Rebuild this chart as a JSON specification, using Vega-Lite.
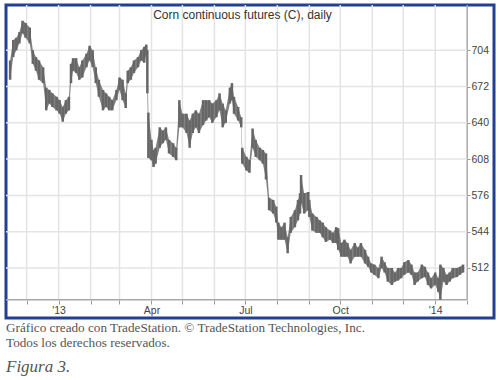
{
  "$schema": "https://vega.github.io/schema/vega-lite/v6.json",
  "width": 488,
  "height": 313,
  "autosize": {"type": "none"},
  "padding": {"left": 6, "top": 5, "right": 6, "bottom": 62},
  "background": "white",
  "config": {"view": {"stroke": "#233f94", "strokeWidth": 3}, "font": "Liberation Sans"},
  "title": {
    "text": ["Gráfico creado con TradeStation. © TradeStation Technologies, Inc.", "Todos los derechos reservados."],
    "orient": "bottom", "anchor": "start", "frame": "group", "offset": 4,
    "font": "Liberation Serif", "fontSize": 13.2, "fontWeight": "normal", "color": "#555", "lineHeight": 15,
    "subtitle": "Figura 3.", "subtitleFont": "Liberation Serif", "subtitleFontSize": 17,
    "subtitleFontStyle": "italic", "subtitleColor": "#555", "subtitlePadding": 9
  },
  "datasets": {
    "months": [
      {"date": "2012-12-01", "kind": "grid"}, {"date": "2013-01-01", "kind": "grid"}, {"date": "2013-02-01", "kind": "grid"},
      {"date": "2013-03-01", "kind": "grid"}, {"date": "2013-04-01", "kind": "grid"}, {"date": "2013-05-01", "kind": "grid"},
      {"date": "2013-06-01", "kind": "grid"}, {"date": "2013-07-01", "kind": "grid"}, {"date": "2013-08-01", "kind": "grid"},
      {"date": "2013-09-01", "kind": "grid"}, {"date": "2013-10-01", "kind": "grid"}, {"date": "2013-11-01", "kind": "grid"},
      {"date": "2013-12-01", "kind": "grid"}, {"date": "2014-01-01", "kind": "grid"}, {"date": "2014-02-01", "kind": "axis"}
    ],
    "levels": [
      {"price": 512, "from": "2012-11-11", "to": "2014-02-01", "kind": "grid"},
      {"price": 544, "from": "2012-11-11", "to": "2014-02-01", "kind": "grid"},
      {"price": 576, "from": "2012-11-11", "to": "2014-02-01", "kind": "grid"},
      {"price": 608, "from": "2012-11-11", "to": "2014-02-01", "kind": "grid"},
      {"price": 640, "from": "2012-11-11", "to": "2014-02-01", "kind": "grid"},
      {"price": 672, "from": "2012-11-11", "to": "2014-02-01", "kind": "grid"},
      {"price": 704, "from": "2012-11-11", "to": "2014-02-01", "kind": "grid"},
      {"price": 484.1, "from": "2012-11-11", "to": "2014-02-01", "kind": "axis"}
    ],
    "corn": [
      {"date": "2012-11-15", "low": 678, "high": 695},
      {"date": "2012-11-18", "low": 698, "high": 713},
      {"date": "2012-11-21", "low": 704, "high": 715},
      {"date": "2012-11-24", "low": 710, "high": 720},
      {"date": "2012-11-27", "low": 719, "high": 730},
      {"date": "2012-11-30", "low": 715, "high": 728},
      {"date": "2012-12-04", "low": 710, "high": 724},
      {"date": "2012-12-07", "low": 692, "high": 704},
      {"date": "2012-12-10", "low": 686, "high": 698},
      {"date": "2012-12-13", "low": 678, "high": 695},
      {"date": "2012-12-17", "low": 675, "high": 689},
      {"date": "2012-12-20", "low": 651, "high": 671},
      {"date": "2012-12-23", "low": 657, "high": 669},
      {"date": "2012-12-26", "low": 654, "high": 666},
      {"date": "2012-12-30", "low": 651, "high": 663},
      {"date": "2013-01-02", "low": 648, "high": 660},
      {"date": "2013-01-05", "low": 641, "high": 654},
      {"date": "2013-01-08", "low": 648, "high": 660},
      {"date": "2013-01-11", "low": 651, "high": 663},
      {"date": "2013-01-13", "low": 675, "high": 692},
      {"date": "2013-01-15", "low": 686, "high": 697},
      {"date": "2013-01-18", "low": 684, "high": 697},
      {"date": "2013-01-21", "low": 678, "high": 689},
      {"date": "2013-01-24", "low": 680, "high": 695},
      {"date": "2013-01-28", "low": 689, "high": 701},
      {"date": "2013-01-31", "low": 695, "high": 708},
      {"date": "2013-02-03", "low": 689, "high": 704},
      {"date": "2013-02-06", "low": 675, "high": 689},
      {"date": "2013-02-09", "low": 663, "high": 678},
      {"date": "2013-02-13", "low": 651, "high": 669},
      {"date": "2013-02-16", "low": 654, "high": 666},
      {"date": "2013-02-19", "low": 651, "high": 663},
      {"date": "2013-02-22", "low": 651, "high": 660},
      {"date": "2013-02-26", "low": 660, "high": 669},
      {"date": "2013-03-01", "low": 669, "high": 680},
      {"date": "2013-03-04", "low": 660, "high": 678},
      {"date": "2013-03-07", "low": 653, "high": 666},
      {"date": "2013-03-09", "low": 675, "high": 686},
      {"date": "2013-03-12", "low": 678, "high": 689},
      {"date": "2013-03-15", "low": 684, "high": 695},
      {"date": "2013-03-19", "low": 689, "high": 698},
      {"date": "2013-03-22", "low": 695, "high": 704},
      {"date": "2013-03-25", "low": 693, "high": 707},
      {"date": "2013-03-27", "low": 700, "high": 709},
      {"date": "2013-03-28", "low": 666, "high": 704},
      {"date": "2013-03-29", "low": 609, "high": 649},
      {"date": "2013-04-01", "low": 607, "high": 625},
      {"date": "2013-04-03", "low": 601, "high": 616},
      {"date": "2013-04-05", "low": 604, "high": 618},
      {"date": "2013-04-09", "low": 618, "high": 636},
      {"date": "2013-04-12", "low": 622, "high": 633},
      {"date": "2013-04-15", "low": 625, "high": 636},
      {"date": "2013-04-18", "low": 613, "high": 625},
      {"date": "2013-04-22", "low": 610, "high": 622},
      {"date": "2013-04-25", "low": 607, "high": 618},
      {"date": "2013-04-28", "low": 636, "high": 660},
      {"date": "2013-05-01", "low": 636, "high": 648},
      {"date": "2013-05-05", "low": 631, "high": 648},
      {"date": "2013-05-08", "low": 618, "high": 642},
      {"date": "2013-05-11", "low": 631, "high": 648},
      {"date": "2013-05-14", "low": 636, "high": 651},
      {"date": "2013-05-17", "low": 631, "high": 648},
      {"date": "2013-05-21", "low": 638, "high": 660},
      {"date": "2013-05-24", "low": 642, "high": 660},
      {"date": "2013-05-27", "low": 645, "high": 660},
      {"date": "2013-05-30", "low": 640, "high": 657},
      {"date": "2013-06-03", "low": 645, "high": 660},
      {"date": "2013-06-06", "low": 651, "high": 666},
      {"date": "2013-06-09", "low": 636, "high": 657},
      {"date": "2013-06-12", "low": 640, "high": 651},
      {"date": "2013-06-16", "low": 657, "high": 671},
      {"date": "2013-06-18", "low": 660, "high": 675},
      {"date": "2013-06-20", "low": 648, "high": 663},
      {"date": "2013-06-24", "low": 642, "high": 654},
      {"date": "2013-06-27", "low": 636, "high": 645},
      {"date": "2013-06-28", "low": 604, "high": 618},
      {"date": "2013-07-02", "low": 598, "high": 610},
      {"date": "2013-07-05", "low": 596, "high": 607},
      {"date": "2013-07-08", "low": 618, "high": 635},
      {"date": "2013-07-11", "low": 610, "high": 625},
      {"date": "2013-07-15", "low": 607, "high": 618},
      {"date": "2013-07-18", "low": 604, "high": 616},
      {"date": "2013-07-21", "low": 590, "high": 613},
      {"date": "2013-07-24", "low": 563, "high": 574},
      {"date": "2013-07-28", "low": 560, "high": 572},
      {"date": "2013-07-31", "low": 552, "high": 566},
      {"date": "2013-08-02", "low": 537, "high": 552},
      {"date": "2013-08-05", "low": 537, "high": 548},
      {"date": "2013-08-08", "low": 537, "high": 552},
      {"date": "2013-08-11", "low": 525, "high": 539},
      {"date": "2013-08-14", "low": 543, "high": 557},
      {"date": "2013-08-18", "low": 548, "high": 563},
      {"date": "2013-08-21", "low": 554, "high": 572},
      {"date": "2013-08-23", "low": 560, "high": 578},
      {"date": "2013-08-24", "low": 569, "high": 594},
      {"date": "2013-08-27", "low": 560, "high": 578},
      {"date": "2013-08-31", "low": 563, "high": 579},
      {"date": "2013-09-01", "low": 557, "high": 572},
      {"date": "2013-09-04", "low": 545, "high": 560},
      {"date": "2013-09-08", "low": 543, "high": 557},
      {"date": "2013-09-11", "low": 543, "high": 554},
      {"date": "2013-09-14", "low": 539, "high": 552},
      {"date": "2013-09-17", "low": 535, "high": 548},
      {"date": "2013-09-21", "low": 537, "high": 545},
      {"date": "2013-09-24", "low": 534, "high": 543},
      {"date": "2013-09-27", "low": 534, "high": 548},
      {"date": "2013-09-29", "low": 528, "high": 547},
      {"date": "2013-10-02", "low": 522, "high": 534},
      {"date": "2013-10-05", "low": 522, "high": 537},
      {"date": "2013-10-08", "low": 522, "high": 534},
      {"date": "2013-10-11", "low": 516, "high": 528},
      {"date": "2013-10-15", "low": 522, "high": 534},
      {"date": "2013-10-18", "low": 522, "high": 530},
      {"date": "2013-10-21", "low": 522, "high": 534},
      {"date": "2013-10-25", "low": 516, "high": 528},
      {"date": "2013-10-28", "low": 513, "high": 522},
      {"date": "2013-10-31", "low": 508, "high": 516},
      {"date": "2013-11-03", "low": 506, "high": 515},
      {"date": "2013-11-07", "low": 503, "high": 512},
      {"date": "2013-11-10", "low": 512, "high": 522},
      {"date": "2013-11-13", "low": 508, "high": 517},
      {"date": "2013-11-16", "low": 500, "high": 512},
      {"date": "2013-11-20", "low": 497, "high": 512},
      {"date": "2013-11-23", "low": 500, "high": 508},
      {"date": "2013-11-26", "low": 501, "high": 512},
      {"date": "2013-11-29", "low": 503, "high": 512},
      {"date": "2013-12-02", "low": 506, "high": 517},
      {"date": "2013-12-06", "low": 508, "high": 519},
      {"date": "2013-12-09", "low": 506, "high": 515},
      {"date": "2013-12-12", "low": 497, "high": 508},
      {"date": "2013-12-15", "low": 500, "high": 508},
      {"date": "2013-12-19", "low": 503, "high": 515},
      {"date": "2013-12-22", "low": 504, "high": 513},
      {"date": "2013-12-25", "low": 497, "high": 508},
      {"date": "2013-12-28", "low": 494, "high": 503},
      {"date": "2014-01-01", "low": 497, "high": 508},
      {"date": "2014-01-04", "low": 491, "high": 503},
      {"date": "2014-01-06", "low": 484, "high": 515},
      {"date": "2014-01-09", "low": 500, "high": 512},
      {"date": "2014-01-12", "low": 497, "high": 506},
      {"date": "2014-01-15", "low": 500, "high": 508},
      {"date": "2014-01-18", "low": 503, "high": 512},
      {"date": "2014-01-22", "low": 504, "high": 512},
      {"date": "2014-01-25", "low": 506, "high": 513},
      {"date": "2014-01-28", "low": 508, "high": 515}
    ]
  },
  "layer": [
    {
      "data": {"name": "months"},
      "mark": {"type": "rule", "strokeWidth": 1.5},
      "encoding": {
        "x": {"field": "date", "type": "temporal",
              "scale": {"domain": [{"year": 2012, "month": 11, "date": 11}, {"year": 2014, "month": 2, "date": 27}], "nice": false}},
        "y": {"datum": 484.1, "type": "quantitative", "scale": {"domain": [467.9, 743.9], "zero": false, "nice": false}},
        "y2": {"datum": 743.9},
        "color": {"condition": {"test": "datum.kind == 'axis'", "value": "#a8a8a8"}, "value": "#e4e4e4"}
      }
    },
    {
      "data": {"name": "levels"},
      "mark": {"type": "rule", "strokeWidth": 1.5},
      "encoding": {
        "y": {"field": "price", "type": "quantitative"},
        "x": {"field": "from", "type": "temporal"},
        "x2": {"field": "to"},
        "color": {"condition": {"test": "datum.kind == 'axis'", "value": "#a8a8a8"}, "value": "#e4e4e4"}
      }
    },
    {
      "data": {"name": "corn"},
      "mark": {"type": "area", "color": "#6c6c6c", "opacity": 0.85},
      "encoding": {
        "x": {"field": "date", "type": "temporal"},
        "y": {"field": "low", "type": "quantitative"},
        "y2": {"field": "high"}
      }
    },
    {
      "data": {"name": "corn"},
      "mark": {"type": "rule", "color": "#666666", "strokeWidth": 2.5},
      "encoding": {
        "x": {"field": "date", "type": "temporal",
              "axis": {"orient": "bottom", "offset": -18, "tickCount": {"interval": "month", "step": 1},
                       "grid": false, "domain": false, "tickSize": 4, "tickColor": "#999",
                       "labelExpr": "month(datum.value) == 0 ? \"'\" + timeFormat(datum.value, '%y') : (month(datum.value) % 3 == 0 ? timeFormat(datum.value, '%b') : '')",
                       "labelFont": "Liberation Sans", "labelFontSize": 10.5, "labelColor": "#444", "labelPadding": 1,
                       "labelOverlap": false, "labelFlush": false, "title": null}},
        "y": {"field": "low", "type": "quantitative",
              "axis": {"orient": "right", "offset": -27, "values": [512, 544, 576, 608, 640, 672, 704], "zindex": 1,
                       "grid": false, "domain": false, "tickSize": 3, "tickColor": "#999",
                       "labelFont": "Liberation Sans", "labelFontSize": 10.5, "labelColor": "#444", "labelPadding": 1,
                       "title": "Corn continuous futures (C), daily", "titleAngle": 0, "titleX": -225, "titleY": 9,
                       "titleAlign": "center", "titleBaseline": "middle", "titleFont": "Liberation Sans",
                       "titleFontSize": 12, "titleFontWeight": "normal", "titleColor": "#333"}},
        "y2": {"field": "high"}
      }
    }
  ]
}
